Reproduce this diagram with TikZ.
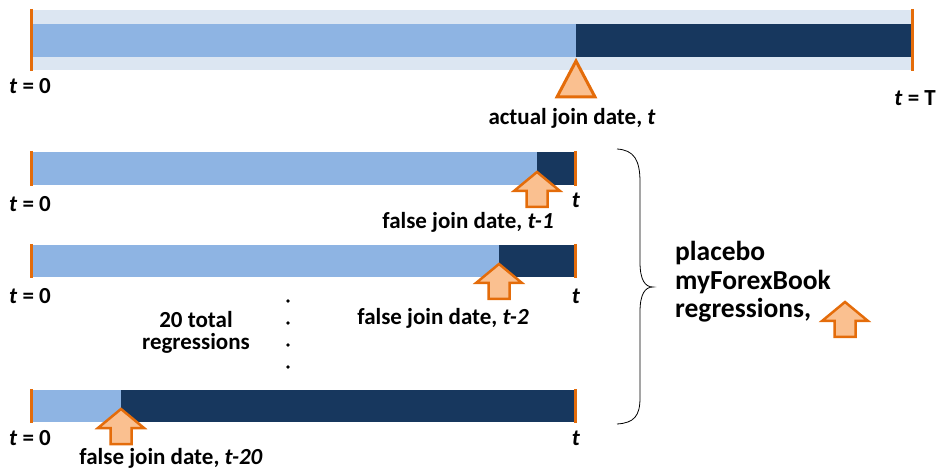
\documentclass[tikz,border=0pt]{standalone}
\usepackage{fontspec}
\setmainfont{Carlito}
\definecolor{myorange}{HTML}{E46C0A}
\definecolor{myfill}{HTML}{FAC090}
\definecolor{mylight}{HTML}{8EB4E3}
\definecolor{mydark}{HTML}{17375E}
\definecolor{mybg}{HTML}{DCE6F2}
\begin{document}
\begin{tikzpicture}[x=1pt,y=-1pt,
  lbl/.style={font=\fontsize{23}{22}\selectfont\bfseries, inner sep=0pt, align=center},
  big/.style={font=\fontsize{27.5}{28.5}\selectfont\bfseries, inner sep=0pt, align=left},
  tick/.style={draw=myorange, line width=3pt},
  arr/.style={draw=myorange, fill=myfill, line width=2.5pt, line join=miter},
  pics/uparrow/.style={code={\draw[arr] (0,0) -- (23,19) -- (10.5,19) -- (10.5,35) -- (-10.5,35) -- (-10.5,19) -- (-23,19) -- cycle;}}
]
\useasboundingbox (0,0) rectangle (940,470);
% top bar
\fill[mybg] (32,10) rectangle (912,70);
\fill[mylight] (32,24) rectangle (576,57);
\fill[mydark] (576,24) rectangle (912,57);
\draw[tick] (31.5,9) -- (31.5,71);
\draw[tick] (912.5,9) -- (912.5,71);
\draw[arr, line width=3pt] (576,61) -- (595,97) -- (557,97) -- cycle;
\node[lbl, anchor=west] (t0a) at (9,86) {\textit{t} = 0};
\node[lbl, anchor=east] (tTa) at (936,98) {\textit{t} = T};
\node[lbl] (ajd) at (572,118) {actual join date, \textit{t}};
% bar 2
\fill[mylight] (32,152) rectangle (537,185);
\fill[mydark] (537,152) rectangle (575,185);
\draw[tick] (31.5,151) -- (31.5,186);
\draw[tick] (575.5,151) -- (575.5,186);
\pic at (537,172) {uparrow};
\node[lbl, anchor=west] (t0b) at (9,204) {\textit{t} = 0};
\node[lbl] (tb) at (576,200) {\textit{t}};
\node[lbl] (fjd1) at (468,222) {false join date, \textit{t-1}};
% bar 3
\fill[mylight] (32,245) rectangle (499,277);
\fill[mydark] (499,245) rectangle (575,277);
\draw[tick] (31.5,244) -- (31.5,278);
\draw[tick] (575.5,244) -- (575.5,278);
\pic at (499,264) {uparrow};
\node[lbl, anchor=west] (t0c) at (9,296) {\textit{t} = 0};
\node[lbl] (tc) at (576,296) {\textit{t}};
\node[lbl] (fjd2) at (443,318) {false join date, \textit{t-2}};
% dots
\foreach \yy in {301,323,345,367} \fill (288,\yy) circle (1.8);
\node[lbl] (tot) at (196,332) {20 total\\regressions};
% bar 4
\fill[mylight] (32,390) rectangle (121,422);
\fill[mydark] (121,390) rectangle (575,422);
\draw[tick] (31.5,389) -- (31.5,423);
\draw[tick] (575.5,389) -- (575.5,423);
\pic at (121,409) {uparrow};
\node[lbl, anchor=west] (t0d) at (9,438) {\textit{t} = 0};
\node[lbl] (td) at (576,438) {\textit{t}};
\node[lbl] (fjd20) at (171,458) {false join date, \textit{t-20}};
% brace
\draw[line width=0.8pt] (617,149) .. controls (634,150) and (640,160) .. (640,182) -- (640,262) .. controls (640,280) and (645,287) .. (653,287) .. controls (645,287) and (640,294) .. (640,312) -- (640,398) .. controls (640,416) and (634,423) .. (617,424);
\node[big, anchor=west] (plc) at (675,282) {placebo\\myForexBook\\regressions,};
\pic at (845,302) {uparrow};
\end{tikzpicture}
\end{document}
